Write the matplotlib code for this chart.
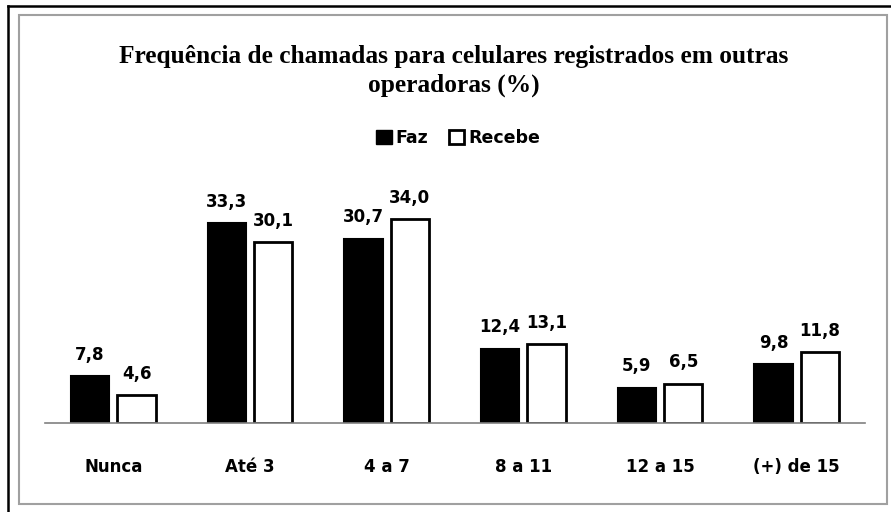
import matplotlib.pyplot as plt
from matplotlib.lines import Line2D
from matplotlib.patches import Rectangle, Patch
import numpy as np

# dados do gráfico
categorias = ["Nunca", "Até 3", "4 a 7", "8 a 11", "12 a 15", "(+) de 15"]
faz = [7.8, 33.3, 30.7, 12.4, 5.9, 9.8]
recebe = [4.6, 30.1, 34.0, 13.1, 6.5, 11.8]

fig = plt.figure(figsize=(8.91, 5.12), dpi=100)
W, H = 891, 512

# moldura externa preta e caixa cinza interna
fig.add_artist(Line2D([8 / W, 8 / W], [0, 1 - 6 / H], color="black", lw=1.8))
fig.add_artist(Line2D([8 / W, 1], [1 - 6 / H, 1 - 6 / H], color="black", lw=1.8))
fig.add_artist(Rectangle((19 / W, 1 - 504 / H), (887 - 19) / W, (504 - 15) / H,
                         transform=fig.transFigure, fill=False,
                         edgecolor="#a0a0a0", lw=1.5))

ax = fig.add_axes([45 / W, 1 - 423 / H, (865 - 45) / W, (423 - 200) / H])
x = np.arange(len(categorias))
w = 0.28
off = 0.17
b1 = ax.bar(x - off, faz, w, color="black", edgecolor="black", lw=1.5)
b2 = ax.bar(x + off, recebe, w, color="white", edgecolor="black", lw=2)

for bars, vals in ((b1, faz), (b2, recebe)):
    for b, v in zip(bars, vals):
        ax.annotate(f"{v:.1f}".replace(".", ","),
                    (b.get_x() + b.get_width() / 2, v),
                    xytext=(0, 9), textcoords="offset points",
                    ha="center", va="bottom", fontsize=12, fontweight="bold")

ax.set_xlim(-0.5, len(categorias) - 0.5)
ax.set_ylim(0, 223 / 6)
ax.set_xticks(x)
ax.set_xticklabels(categorias, fontsize=12, fontweight="bold")
ax.tick_params(axis="x", length=0, pad=25)
ax.set_yticks([])
for s in ["top", "right", "left"]:
    ax.spines[s].set_visible(False)
ax.spines["bottom"].set_color("#808080")
ax.spines["bottom"].set_linewidth(1.2)

fig.text(454 / W, 1 - 71 / H,
         "Frequência de chamadas para celulares registrados em outras\noperadoras (%)",
         ha="center", va="center", fontsize=18.3, fontweight="bold",
         family="Liberation Serif", linespacing=1.3)

handles = [Patch(facecolor="black", edgecolor="black", label="Faz"),
           Patch(facecolor="white", edgecolor="black", lw=2, label="Recebe")]
fig.legend(handles=handles, loc="center", bbox_to_anchor=(458 / W, 1 - 138 / H),
           ncol=2, frameon=False, prop={"weight": "bold", "size": 12.5},
           handlelength=0.9, handleheight=0.9, handletextpad=0.2, columnspacing=1.2)

fig.savefig("out.png", dpi=100)
